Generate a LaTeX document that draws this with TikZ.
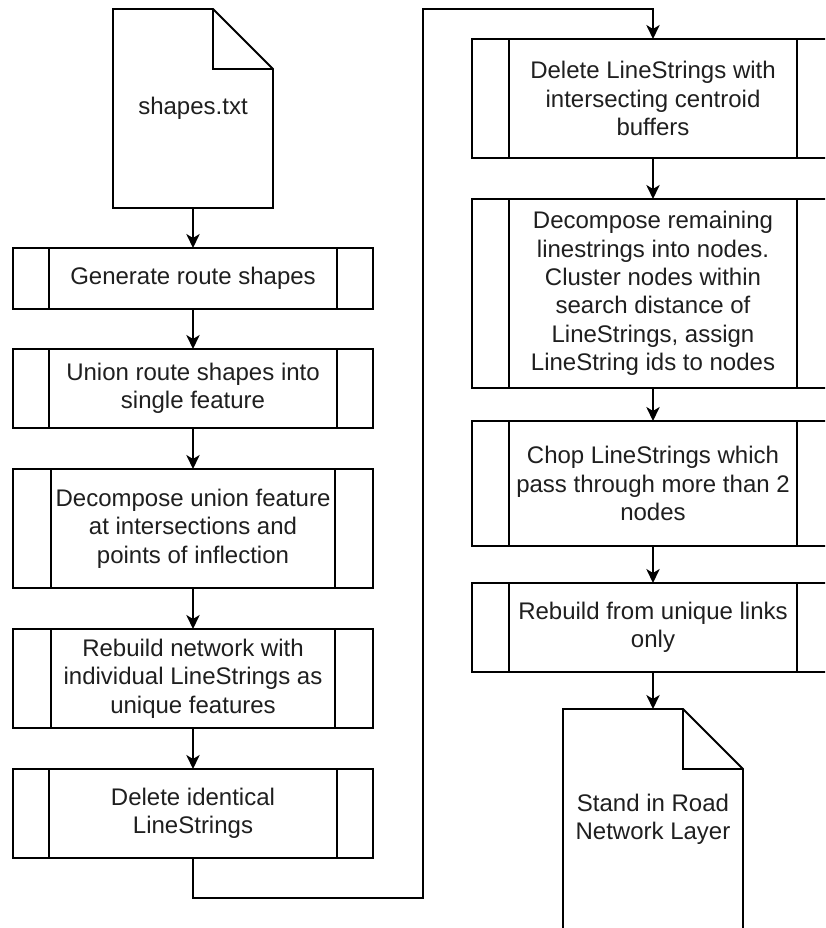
\documentclass[tikz,border=0pt]{standalone}
\usepackage{fontspec}
\setmainfont{Liberation Sans}
\usetikzlibrary{arrows.meta,calc}
\newcommand\sidebars[2]{%
  \draw[ln] ($(#1.north west)+(#2,0)$) -- ($(#1.south west)+(#2,0)$);
  \draw[ln] ($(#1.north east)+(-#2,0)$) -- ($(#1.south east)+(-#2,0)$);}
\newcommand\docpath[1]{%
  \draw[ln,line join=miter] (#1.north west) -- ($(#1.north east)+(-60,0)$) -- ($(#1.north east)+(0,60)$) -- (#1.south east) -- (#1.south west) -- cycle;
  \draw[ln] ($(#1.north east)+(-60,0)$) -- ($(#1.north east)+(-60,60)$) -- ($(#1.north east)+(0,60)$);}
\begin{document}
\begin{tikzpicture}[x=0.75pt,y=-0.75pt,
  ln/.style={line width=1.4pt},
  txt/.style={font=\fontsize{18}{21.3}\selectfont, align=center, text=black!88},
  proc/.style={txt, draw, ln, rectangle, inner sep=0pt, outer sep=0pt},
  lproc/.style={proc, minimum width=270pt},
  rproc/.style={proc, minimum width=271.5pt},
  docnode/.style={txt, rectangle, inner sep=0pt, outer sep=0pt},
  arr/.style={ln, -{Stealth[length=10.5pt,width=10pt,inset=3pt]}}
]
\clip (0,0) rectangle (825,928);
\fill[white] (0,0) rectangle (825,928);

% left column
\node[docnode, minimum width=120pt, minimum height=149.25pt] (d1) at (193,108.5) {shapes.txt};
\docpath{d1}
\node[lproc, minimum height=45.75pt] (b1) at (193,278.5) {Generate route shapes};
\node[lproc, minimum height=59.25pt] (b2) at (193,388.5) {Union route shapes into\\single feature};
\node[lproc, minimum height=89.25pt] (b3) at (193,528.5) {Decompose union feature\\at intersections and\\points of inflection};
\node[lproc, minimum height=74.25pt] (b4) at (193,678.5) {Rebuild network with\\individual LineStrings as\\unique features};
\node[lproc, minimum height=66.75pt] (b5) at (193,813.5) {Delete identical\\LineStrings};
\sidebars{b1}{36}
\sidebars{b2}{36}
\sidebars{b3}{38}
\sidebars{b4}{38}
\sidebars{b5}{36}

% right column
\node[rproc, minimum height=89.25pt] (r1) at (653,98.5) {Delete LineStrings with\\intersecting centroid\\buffers};
\node[rproc, minimum height=141.75pt] (r2) at (653,293.5) {Decompose remaining\\linestrings into nodes.\\Cluster nodes within\\search distance of\\LineStrings, assign\\LineString ids to nodes};
\node[rproc, minimum height=93.75pt] (r3) at (653,483.5) {Chop LineStrings which\\pass through more than 2\\nodes};
\node[rproc, minimum height=66.75pt] (r4) at (653,627.5) {Rebuild from unique links\\only};
\node[docnode, minimum width=135pt, minimum height=165pt] (d2) at (653,819) {Stand in Road\\Network Layer};
\docpath{d2}
\sidebars{r1}{37}
\sidebars{r2}{37}
\sidebars{r3}{37}
\sidebars{r4}{37}

% connectors
\draw[arr] (d1.south) -- (b1.north);
\draw[arr] (b1.south) -- (b2.north);
\draw[arr] (b2.south) -- (b3.north);
\draw[arr] (b3.south) -- (b4.north);
\draw[arr] (b4.south) -- (b5.north);
\coordinate (c1) at (423,898);
\coordinate (c2) at (423,9);
\draw[arr, line join=miter] (b5.south) |- (c1) -- (c2) -| (r1.north);
\draw[arr] (r1.south) -- (r2.north);
\draw[arr] (r2.south) -- (r3.north);
\draw[arr] (r3.south) -- (r4.north);
\draw[arr] (r4.south) -- (d2.north);
\end{tikzpicture}
\end{document}
